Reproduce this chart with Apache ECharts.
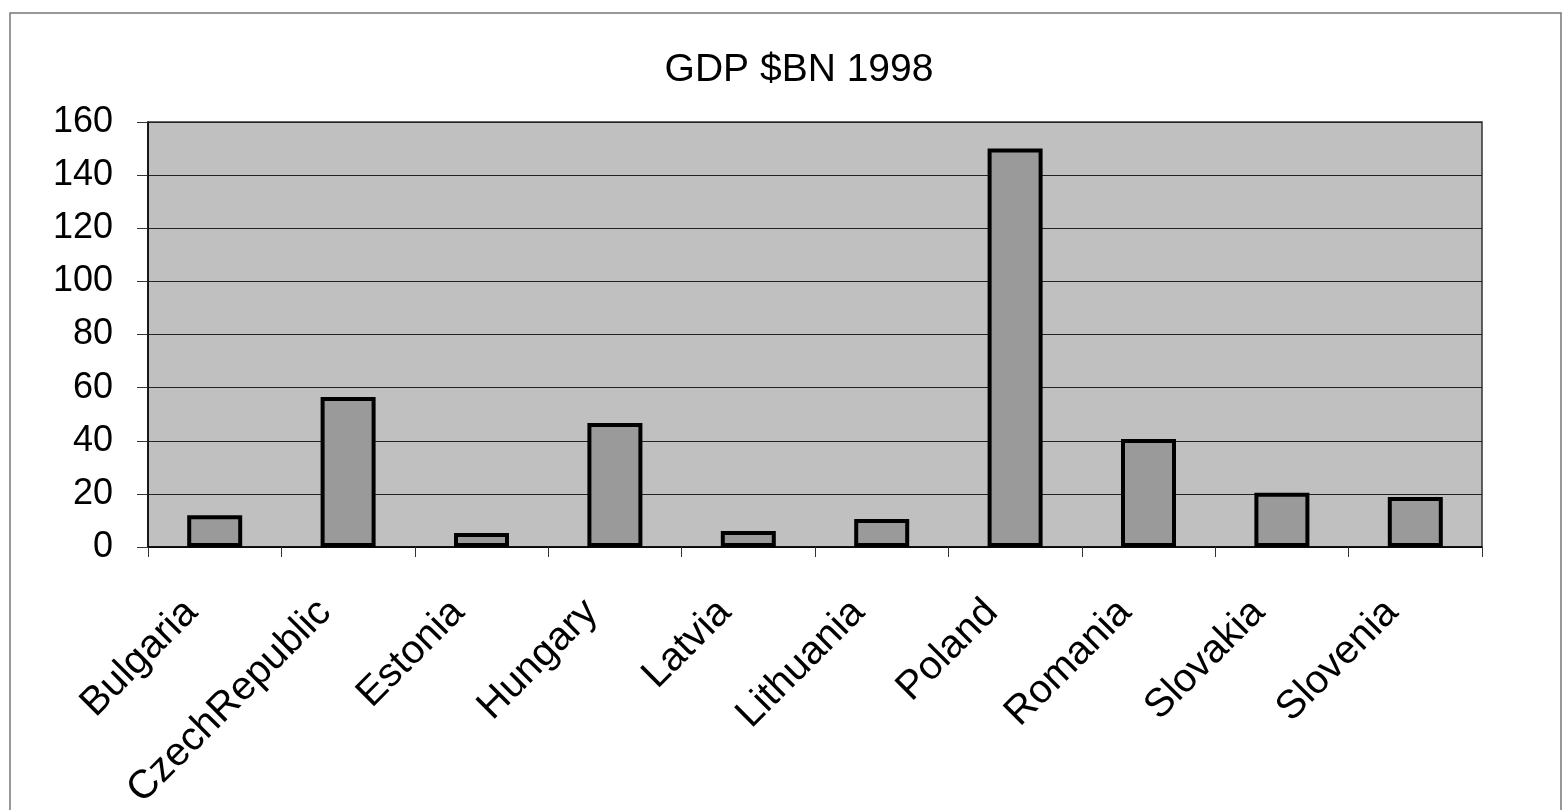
<!DOCTYPE html>
<html><head><meta charset="utf-8">
<script src="https://cdn.jsdelivr.net/npm/echarts@6/dist/echarts.min.js"></script>
<style>html,body{margin:0;padding:0;background:#fff}#c{width:1568px;height:810px}</style>
</head><body><div id="c"></div>
<script>
const categories = ["Bulgaria","CzechRepublic","Estonia","Hungary","Latvia","Lithuania","Poland","Romania","Slovakia","Slovenia"];
const gdp = [12, 56.5, 5.3, 46.7, 6, 10.5, 150, 40.7, 20.4, 18.8];
const title = "GDP $BN 1998";
const chart = echarts.init(document.getElementById('c'));
chart.setOption({
  animation: false,
  backgroundColor: '#fff',
  title: {text: title, left: 794, top: 46, textAlign: 'center',
    textStyle: {fontFamily: 'Liberation Sans, Arial', fontSize: 39, fontWeight: 'normal', color: '#000'}},
  graphic: [{type: 'rect', shape: {x: 10, y: 13, width: 1551, height: 820},
    style: {fill: 'none', stroke: '#777', lineWidth: 1.5}, silent: true}],
  grid: {left: 148, right: 86, top: 122, bottom: 263, show: true, backgroundColor: '#c0c0c0',
    borderColor: '#333', borderWidth: 1.5, containLabel: false, outerBoundsMode: 'none'},
  xAxis: {type: 'category', data: categories,
    axisLine: {lineStyle: {color: '#000', width: 1.5}},
    axisTick: {show: true, length: 10, lineStyle: {color: '#333'}},
    axisLabel: {rotate: 45, fontFamily: 'Liberation Sans, Arial', fontSize: 40, color: '#000',
      margin: 36, padding: [0, 33, 0, 0], interval: 0}},
  yAxis: {type: 'value', min: 0, max: 160, interval: 20,
    axisLine: {show: true, lineStyle: {color: '#000', width: 1.5}},
    axisTick: {show: true, length: 11, lineStyle: {color: '#333'}},
    splitLine: {lineStyle: {color: '#222', width: 1.2}},
    axisLabel: {fontFamily: 'Liberation Sans, Arial', fontSize: 36, color: '#000', margin: 35}},
  series: [{type: 'bar', data: gdp, barWidth: 55,
    itemStyle: {color: '#9a9a9a', borderColor: '#000', borderWidth: 4}}]
});
</script></body></html>
